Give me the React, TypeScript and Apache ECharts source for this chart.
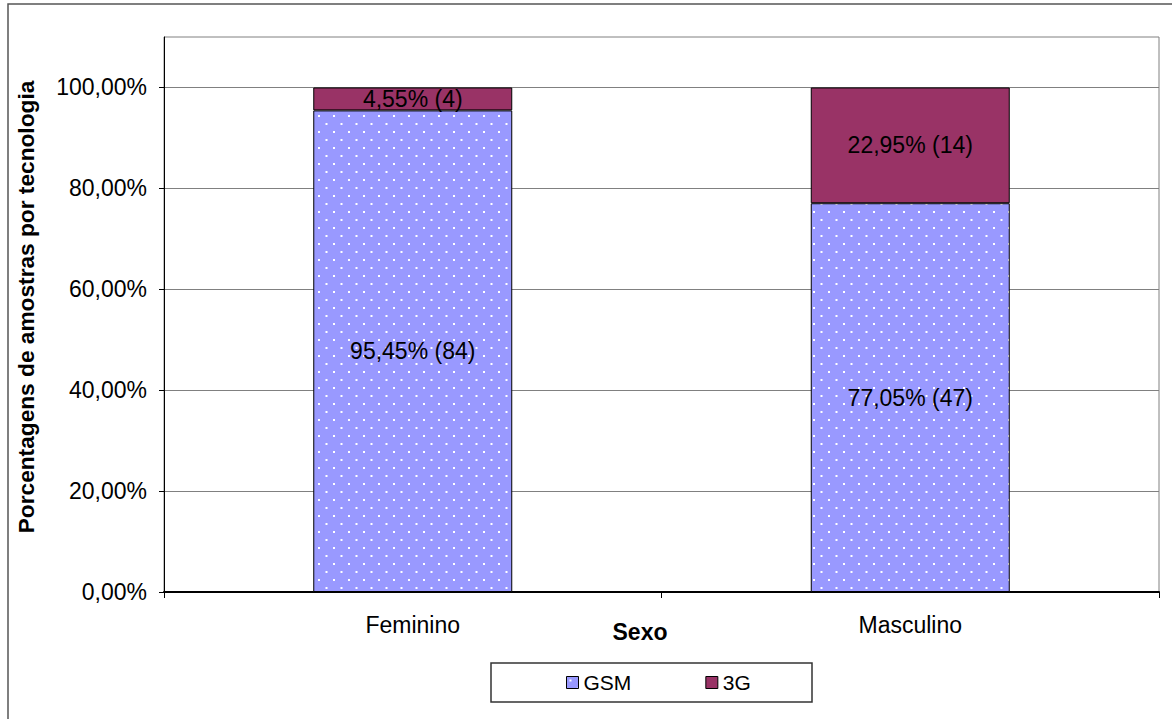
import React, { useEffect, useRef } from "react";
import * as echarts from "echarts";

const categories = ["Feminino", "Masculino"];
const gsmValues = [95.45, 77.05];
const gsmCounts = [84, 47];
const g3Values = [4.55, 22.95];
const g3Counts = [4, 14];
const yTicks = [0, 20, 40, 60, 80, 100];

function makeDotPattern(): HTMLCanvasElement {
  const c = document.createElement("canvas");
  c.width = 15;
  c.height = 16;
  const ctx = c.getContext("2d")!;
  ctx.fillStyle = "#9999FF";
  ctx.fillRect(0, 0, 15, 16);
  ctx.fillStyle = "#ffffff";
  ctx.fillRect(3, 3, 2, 2);
  ctx.fillRect(10.5, 11, 2, 2);
  return c;
}

const fmt = (v: number, n: number) => `${v.toFixed(2).replace(".", ",")}% (${n})`;

export default function App() {
  const ref = useRef<HTMLDivElement>(null);
  useEffect(() => {
    if (!ref.current) return;
    const chart = echarts.init(ref.current, null, { renderer: "svg" });
    const pattern = makeDotPattern();
    const font = "'Liberation Sans', Arial, sans-serif";
    chart.setOption({
      animation: false,
      textStyle: { fontFamily: font },
      grid: {
        left: 164,
        top: 37,
        right: 13,
        bottom: 127,
        show: true,
        borderColor: "#808080",
        borderWidth: 1,
        containLabel: false,
      },
      xAxis: {
        type: "category",
        data: categories,
        axisLine: { lineStyle: { color: "#000", width: 2 } },
        axisTick: { show: true, length: 6, lineStyle: { color: "#000" } },
        axisLabel: { color: "#000", fontSize: 23, margin: 21, fontFamily: font },
      },
      yAxis: {
        type: "value",
        min: 0,
        max: 110,
        interval: 20,
        axisLine: { show: true, lineStyle: { color: "#000", width: 1 } },
        axisTick: { show: true, length: 5, inside: false, lineStyle: { color: "#000" }, customValues: yTicks },
        axisLabel: {
          color: "#000",
          fontSize: 23,
          margin: 17,
          fontFamily: font,
          customValues: yTicks,
          formatter: (v: number) => (v > 100 ? "" : `${v.toFixed(2).replace(".", ",")}%`),
        },
        splitLine: { show: true, lineStyle: { color: "#808080", width: 1 } },
      },
      legend: {
        data: ["GSM", "3G"],
        left: 566,
        top: 672,
        padding: 0,
        itemWidth: 12,
        itemHeight: 12,
        itemGap: 74,
        icon: "rect",
        textStyle: { color: "#000", fontSize: 21, fontFamily: font },
        itemStyle: { borderColor: "#000", borderWidth: 1 },
      },
      graphic: [
        {
          type: "rect",
          shape: { x: 8, y: 4, width: 1300, height: 900 },
          style: { fill: "none", stroke: "#555", lineWidth: 1.5 },
          silent: true,
          z: -10,
        },
        {
          type: "rect",
          shape: { x: 491, y: 663, width: 321, height: 39 },
          style: { fill: "none", stroke: "#333", lineWidth: 1.5 },
          silent: true,
        },
        {
          type: "text",
          x: 640,
          y: 632,
          style: {
            text: "Sexo",
            fontSize: 23,
            fontWeight: "bold",
            fontFamily: font,
            fill: "#000",
            align: "center",
            verticalAlign: "middle",
          },
        },
        {
          type: "text",
          x: 26,
          y: 307,
          rotation: Math.PI / 2,
          style: {
            text: "Porcentagens de amostras por tecnologia",
            fontSize: 22.7,
            fontWeight: "bold",
            fontFamily: font,
            fill: "#000",
            align: "center",
            verticalAlign: "middle",
          },
        },
      ],
      series: [
        {
          name: "GSM",
          type: "bar",
          stack: "total",
          barWidth: "40%",
          data: gsmValues,
          itemStyle: {
            color: { image: pattern, repeat: "repeat", imageWidth: 15, imageHeight: 16 },
            borderColor: "#000",
            borderWidth: 1,
          },
          label: {
            show: true,
            position: "inside",
            color: "#000",
            fontSize: 23,
            fontFamily: font,
            formatter: (p: any) => fmt(p.value, gsmCounts[p.dataIndex]),
          },
        },
        {
          name: "3G",
          type: "bar",
          stack: "total",
          barWidth: "40%",
          data: g3Values,
          itemStyle: { color: "#993366", borderColor: "#000", borderWidth: 1 },
          label: {
            show: true,
            position: "inside",
            color: "#000",
            fontSize: 23,
            fontFamily: font,
            formatter: (p: any) => fmt(p.value, g3Counts[p.dataIndex]),
          },
        },
      ],
    });
    return () => chart.dispose();
  }, []);
  return (
    <div
      ref={ref}
      style={{ position: "absolute", left: 0, top: 0, width: 1172, height: 719, background: "#fff" }}
    />
  );
}
